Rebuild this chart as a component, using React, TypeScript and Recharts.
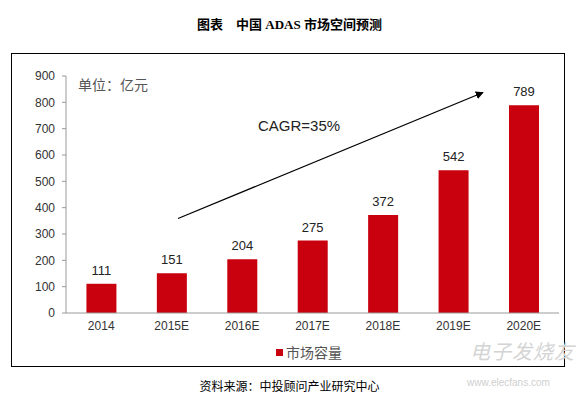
import React from "react";
import { BarChart, Bar, XAxis, YAxis, LabelList } from "recharts";

const years = ["2014", "2015E", "2016E", "2017E", "2018E", "2019E", "2020E"];
const marketSize = [111, 151, 204, 275, 372, 542, 789];
const yTicks = [0, 100, 200, 300, 400, 500, 600, 700, 800, 900];
const slotTicks = [0, 1, 2, 3, 4, 5, 6, 7];

const data = years.map((year, i) => ({ year, value: marketSize[i] }));

const sansFont = "'Liberation Sans', Arial, 'Noto Sans CJK SC', sans-serif";
const cjkFont = "'Noto Sans CJK SC', 'Liberation Sans', sans-serif";
const axisGrey = "#9a9a9a";
const barRed = "#C9000E";

export default function App() {
  return (
    <div
      style={{
        position: "absolute",
        left: 0,
        top: 0,
        width: 579,
        height: 398,
        background: "#fff",
        fontFamily: cjkFont,
        overflow: "hidden",
      }}
    >
      {/* Title */}
      <div
        style={{
          position: "absolute",
          top: 14,
          left: 0,
          width: 579,
          textAlign: "center",
          fontSize: 13,
          fontWeight: 700,
          fontFamily: "'Liberation Serif', 'Noto Sans CJK SC', serif",
          color: "#000",
        }}
      >
        图表&nbsp;&nbsp;&nbsp;&nbsp;中国 ADAS 市场空间预测
      </div>

      {/* Frame */}
      <div
        style={{
          position: "absolute",
          left: 11,
          top: 53,
          width: 552,
          height: 312,
          border: "1px solid #000",
        }}
      />

      <div style={{ position: "absolute", left: 0, top: 0 }}>
        <BarChart
          width={579}
          height={398}
          data={data}
          margin={{ top: 76, right: 20, bottom: 55, left: 10 }}
          barCategoryGap="29%"
        >
          <XAxis
            xAxisId="slots"
            type="number"
            domain={[0, 7]}
            ticks={slotTicks}
            height={0}
            axisLine={false}
            tickLine={{ stroke: axisGrey }}
            tickSize={4}
            tickFormatter={() => ""}
          />
          <XAxis
            xAxisId="cat"
            dataKey="year"
            height={30}
            axisLine={{ stroke: axisGrey }}
            tickLine={false}
            tick={{ fill: "#333", fontSize: 12, fontFamily: sansFont }}
            interval={0}
          />
          <YAxis
            domain={[0, 900]}
            ticks={yTicks}
            width={56}
            axisLine={{ stroke: axisGrey }}
            tickLine={{ stroke: axisGrey }}
            tickSize={4}
            tickMargin={7}
            tick={{ fill: "#333", fontSize: 12, fontFamily: sansFont }}
            interval={0}
          />
          <Bar xAxisId="cat" dataKey="value" fill={barRed} isAnimationActive={false}>
            <LabelList
              dataKey="value"
              position="top"
              offset={9}
              style={{ fill: "#222", fontSize: 13, fontFamily: sansFont }}
            />
          </Bar>
        </BarChart>
      </div>

      {/* Unit note */}
      <div
        style={{
          position: "absolute",
          left: 78,
          top: 74,
          fontSize: 14,
          color: "#555",
        }}
      >
        单位：亿元
      </div>

      {/* CAGR annotation */}
      <div
        style={{
          position: "absolute",
          left: 258,
          top: 117,
          fontSize: 15,
          color: "#222",
          fontFamily: "'Liberation Sans', 'DejaVu Sans', sans-serif",
        }}
      >
        CAGR=35%
      </div>

      <svg
        width={579}
        height={398}
        style={{ position: "absolute", left: 0, top: 0, pointerEvents: "none" }}
      >
        <defs>
          <marker
            id="arrowHead"
            viewBox="0 0 10 10"
            refX="9"
            refY="5"
            markerWidth="8"
            markerHeight="8"
            markerUnits="userSpaceOnUse"
            orient="auto"
          >
            <path d="M0,0 L10,5 L0,10 z" fill="#000" />
          </marker>
        </defs>
        <line
          x1={178}
          y1={218.5}
          x2={483}
          y2={92.5}
          stroke="#000"
          strokeWidth={1.3}
          markerEnd="url(#arrowHead)"
        />
      </svg>

      {/* Legend */}
      <div
        style={{
          position: "absolute",
          left: 276,
          top: 342,
          display: "flex",
          alignItems: "center",
          fontSize: 14,
          color: "#555",
        }}
      >
        <span
          style={{
            display: "inline-block",
            width: 7,
            height: 7,
            background: barRed,
            marginRight: 3,
          }}
        />
        市场容量
      </div>

      {/* Watermark */}
      <div
        style={{
          position: "absolute",
          left: 470,
          top: 336,
          fontSize: 20,
          color: "#d4d4d4",
          fontStyle: "italic",
          letterSpacing: 1,
        }}
      >
        电子发烧友
      </div>
      <div
        style={{
          position: "absolute",
          left: 467,
          top: 377,
          fontSize: 10,
          color: "#cfcfcf",
          fontFamily: sansFont,
        }}
      >
        www.elecfans.com
      </div>

      {/* Source */}
      <div
        style={{
          position: "absolute",
          top: 377,
          left: 0,
          width: 579,
          textAlign: "center",
          fontSize: 12,
          color: "#000",
        }}
      >
        资料来源：中投顾问产业研究中心
      </div>
    </div>
  );
}
